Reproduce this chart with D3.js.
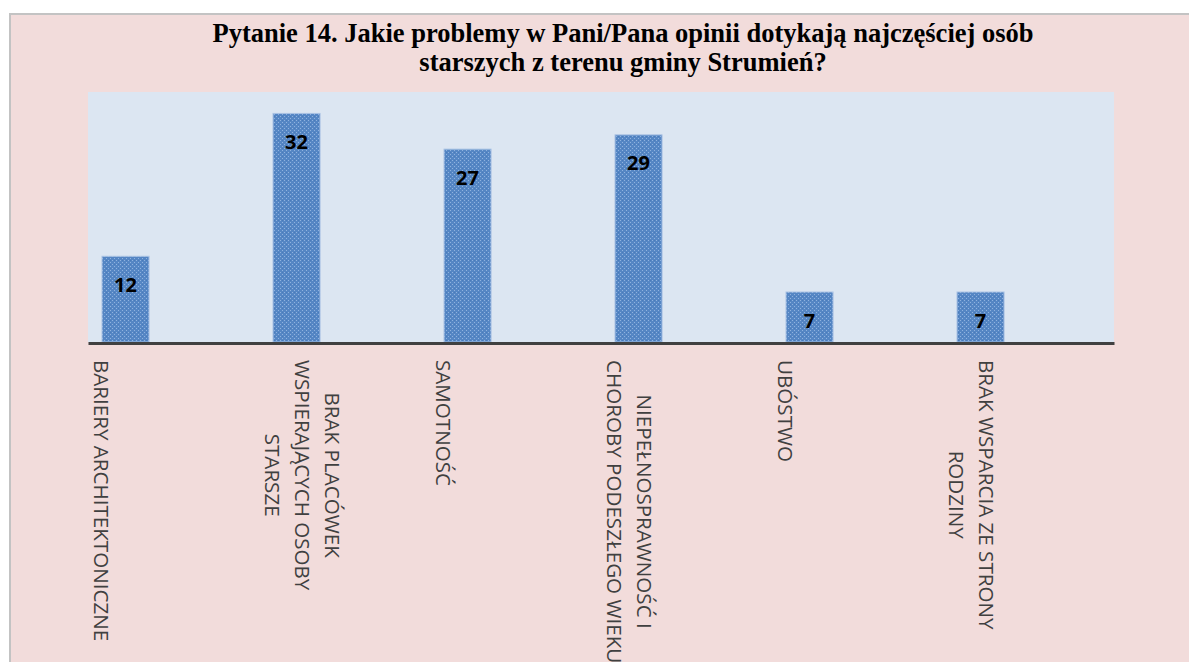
<!DOCTYPE html>
<html>
<head>
<meta charset="utf-8">
<script src="https://cdn.jsdelivr.net/npm/d3@7"></script>
<style>
  html, body { margin: 0; padding: 0; background: #ffffff; }
  svg { display: block; }
</style>
</head>
<body>
<svg id="chart" width="1189" height="662"></svg>
<script>
// ---- data ----
const titleLines = [
  "Pytanie 14. Jakie problemy w Pani/Pana opinii dotykają najczęściej osób",
  "starszych z terenu gminy Strumień?"
];
const categories = [
  ["BARIERY ARCHITEKTONICZNE"],
  ["BRAK PLACÓWEK", "WSPIERAJĄCYCH OSOBY", "STARSZE"],
  ["SAMOTNOŚĆ"],
  ["NIEPEŁNOSPRAWNOŚĆ I", "CHOROBY PODESZŁEGO WIEKU"],
  ["UBÓSTWO"],
  ["BRAK WSPARCIA ZE STRONY", "RODZINY"]
];
const values = [12, 32, 27, 29, 7, 7];
const yDomain = [0, 35];

// ---- layout ----
const W = 1189, H = 662;
const plot = { left: 88, right: 1114, top: 92, bottom: 342 };

const svg = d3.select("#chart");
const defs = svg.append("defs");
const pat = defs.append("pattern")
  .attr("id", "barTex").attr("patternUnits", "userSpaceOnUse")
  .attr("width", 4).attr("height", 4);
pat.append("rect").attr("width", 4).attr("height", 4).attr("fill", "#5586C4");
pat.append("rect").attr("x", 0).attr("y", 0).attr("width", 1).attr("height", 1).attr("fill", "#8FB2DF");
pat.append("rect").attr("x", 2).attr("y", 2).attr("width", 1).attr("height", 1).attr("fill", "#8FB2DF");
pat.append("rect").attr("x", 2).attr("y", 0).attr("width", 1).attr("height", 1).attr("fill", "#4A7BBA");

// outer chart area
svg.append("rect")
  .attr("x", 10).attr("y", 14).attr("width", W).attr("height", H)
  .attr("fill", "#F2DCDB").attr("stroke", "#C3C3C3").attr("stroke-width", 2);

// plot area
svg.append("rect")
  .attr("x", plot.left).attr("y", plot.top)
  .attr("width", plot.right - plot.left).attr("height", plot.bottom - plot.top)
  .attr("fill", "#DCE6F2");

// title
const title = svg.append("text")
  .attr("text-anchor", "middle")
  .attr("font-family", "'Liberation Serif', 'Times New Roman', serif")
  .attr("font-weight", "bold").attr("font-size", 26.5).attr("fill", "#000");
titleLines.forEach((t, i) => {
  title.append("tspan").attr("x", 623).attr("y", 42 + i * 29).text(t);
});

// scales
const x = d3.scaleBand().domain(d3.range(categories.length))
  .range([plot.left, plot.right]).paddingInner(0).paddingOuter(0);
const y = d3.scaleLinear().domain(yDomain).range([plot.bottom, plot.top]);
const bw = x.bandwidth();
const barOff = bw * 0.082, barW = bw * 0.275;

// bars
svg.append("g").selectAll("rect").data(values).join("rect")
  .attr("x", (d, i) => x(i) + barOff)
  .attr("y", d => y(d))
  .attr("width", barW)
  .attr("height", d => y(0) - y(d))
  .attr("fill", "url(#barTex)")
  .attr("stroke", "#A9C2E4").attr("stroke-width", 1);

// value labels
svg.append("g").selectAll("text").data(values).join("text")
  .attr("x", (d, i) => x(i) + barOff + barW / 2)
  .attr("y", d => y(d) + 28)
  .attr("text-anchor", "middle").attr("dominant-baseline", "central")
  .attr("font-family", "'Open Sans', sans-serif").attr("font-weight", "bold")
  .attr("font-size", 20).attr("fill", "#000")
  .text(d => d);

// axis line
const xAxis = d3.axisBottom(x).tickSize(0).tickFormat("");
const ax = svg.append("g").attr("transform", `translate(0,${plot.bottom + 1})`).call(xAxis);
ax.select(".domain").attr("stroke", "#404040").attr("stroke-width", 3);

// category labels (rotated 90deg, reading downward)
const lineGap = 30;
const labelTop = 360;
categories.forEach((lines, i) => {
  const anchorX = x(i) + barOff + barW / 2 - 24; // position of last line
  const g = svg.append("g");
  const n = lines.length;
  const texts = lines.map((ln, j) => {
    const cx = anchorX + (n - 1 - j) * lineGap;
    return g.append("text")
      .attr("font-family", "'Open Sans', sans-serif").attr("font-size", 20.6)
      .attr("fill", "#404040").attr("text-anchor", "middle")
      .attr("dominant-baseline", "central")
      .attr("data-cx", cx)
      .text(ln);
  });
  const maxLen = d3.max(texts, t => t.node().getComputedTextLength());
  const cy = labelTop + maxLen / 2;
  texts.forEach(t => {
    const cx = +t.attr("data-cx");
    t.attr("transform", `translate(${cx},${cy}) rotate(90)`);
  });
});
</script>
</body>
</html>
